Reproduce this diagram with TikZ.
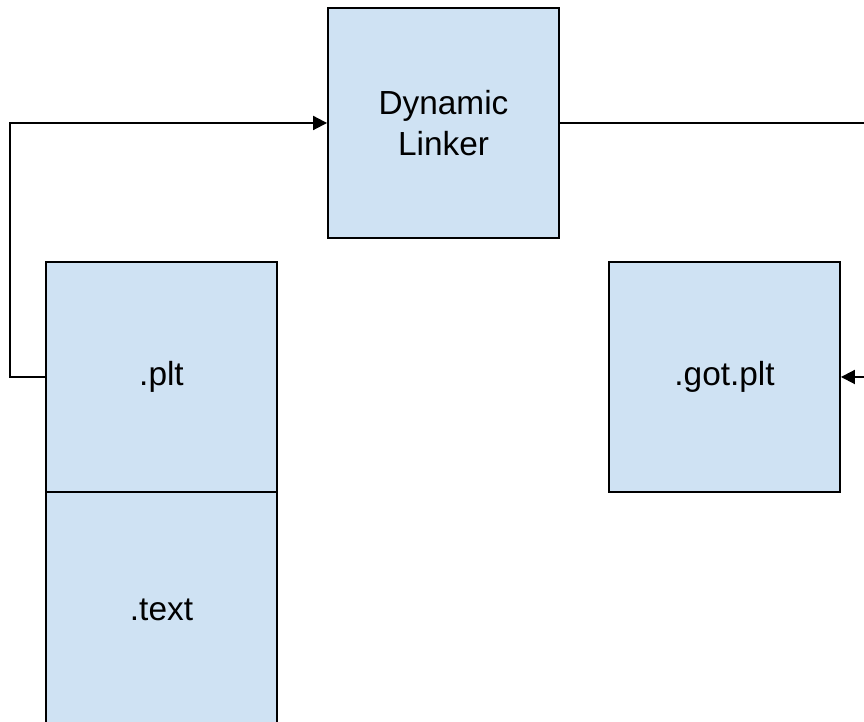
\documentclass[tikz,border=0pt]{standalone}
\usepackage{fontspec}
\setmainfont{Liberation Sans}
\usepackage{tikz}
\usetikzlibrary{positioning,arrows.meta}
\definecolor{boxblue}{RGB}{207,226,243}

\begin{document}
\begin{tikzpicture}[x=0.02cm, y=0.02cm, line width=1.1pt,
    sect/.style={draw, fill=boxblue, minimum width=4.62cm, minimum height=4.6cm, align=center, inner sep=0pt, font=\fontsize{19}{23}\selectfont},
    link/.style={-{Triangle[length=0.28cm,width=0.28cm]}}]
    \useasboundingbox (0,0) rectangle (864,722);
    \clip (0,0) rectangle (864,722);

    \node [sect] (linker) at (443.5,599) {Dynamic\\Linker};
    \node [sect] (plt) at (161.5,345) {.plt};
    % lower edge runs off the page
    \node [sect, minimum height=4.72cm, below=-1.1pt of plt] (text) {.text};
    \node [sect] (got) at (724.5,345) {.got.plt};

    \coordinate (rightA) at (870,599);
    \coordinate (rightB) at (870,345);

    \draw [link] (plt.west) -- ++(-35,0) |- (linker.west);
    \draw (linker.east) -- (rightA);
    \draw [link] (rightB) -- (got.east);
\end{tikzpicture}
\end{document}
